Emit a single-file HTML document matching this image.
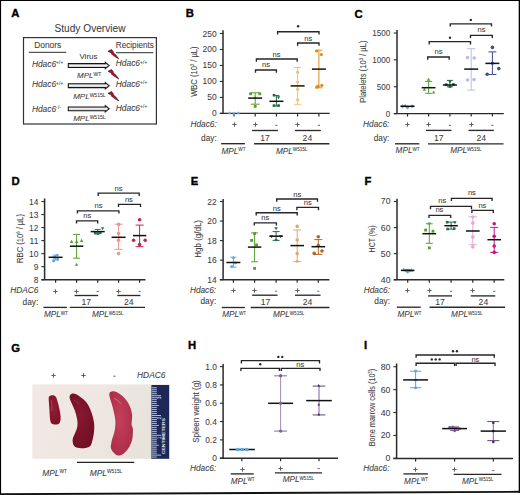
<!DOCTYPE html>
<html><head><meta charset="utf-8"><style>
html,body{margin:0;padding:0;background:#fff;}
svg{display:block;font-family:"Liberation Sans", sans-serif;}
text{stroke:#3a3a3a;stroke-width:0.06px;}
</style></head><body>
<svg width="520" height="495" viewBox="0 0 520 495">
<rect x="0" y="0" width="520" height="495" fill="#fff"/>
<text x="11.20" y="17.30" font-size="11.3" text-anchor="start" fill="#000" font-weight="bold" style="stroke:#000;stroke-width:0.35px">A</text>
<text x="54.50" y="32.30" font-size="10" text-anchor="start" fill="#3c3c3c" textLength="71" lengthAdjust="spacingAndGlyphs" style="stroke-width:0.05px">Study Overview</text>
<rect x="23.5" y="37.6" width="132.9" height="86.4" fill="none" stroke="#333" stroke-width="1.2"/>
<text x="34.20" y="48.00" font-size="8.4" text-anchor="start" fill="#3c3c3c" textLength="27" lengthAdjust="spacingAndGlyphs">Donors</text>
<line x1="28.80" y1="52.40" x2="66.30" y2="52.40" stroke="#555" stroke-width="1.3"/>
<text x="115.80" y="47.60" font-size="8.2" text-anchor="start" fill="#3c3c3c" textLength="38.1" lengthAdjust="spacingAndGlyphs">Recipients</text>
<line x1="116.10" y1="52.70" x2="153.30" y2="52.70" stroke="#555" stroke-width="1.3"/>
<text x="79.40" y="59.40" font-size="8" text-anchor="start" fill="#3c3c3c" textLength="18.2" lengthAdjust="spacingAndGlyphs">Virus</text>
<text x="31.90" y="67.10" font-size="8.4" fill="#3c3c3c"><tspan font-style="italic">Hdac6</tspan><tspan font-size="4.6" dy="-2.7" letter-spacing="0.25" style="stroke-width:0.08px">+/+</tspan></text>
<text x="31.90" y="87.40" font-size="8.4" fill="#3c3c3c"><tspan font-style="italic">Hdac6</tspan><tspan font-size="4.6" dy="-2.7" letter-spacing="0.25" style="stroke-width:0.08px">+/+</tspan></text>
<text x="31.90" y="111.50" font-size="8.4" fill="#3c3c3c"><tspan font-style="italic">Hdac6</tspan><tspan font-size="4.6" dy="-2.7" letter-spacing="0.25" style="stroke-width:0.08px">-/-</tspan></text>
<text x="115.80" y="66.40" font-size="8.4" fill="#3c3c3c"><tspan font-style="italic">Hdac6</tspan><tspan font-size="4.6" dy="-2.7" letter-spacing="0.25" style="stroke-width:0.08px">+/+</tspan></text>
<text x="115.80" y="87.00" font-size="8.4" fill="#3c3c3c"><tspan font-style="italic">Hdac6</tspan><tspan font-size="4.6" dy="-2.7" letter-spacing="0.25" style="stroke-width:0.08px">+/+</tspan></text>
<text x="115.80" y="110.50" font-size="8.4" fill="#3c3c3c"><tspan font-style="italic">Hdac6</tspan><tspan font-size="4.6" dy="-2.7" letter-spacing="0.25" style="stroke-width:0.08px">+/+</tspan></text>
<defs><linearGradient id="arrg" x1="0" y1="0" x2="0" y2="1"><stop offset="0" stop-color="#9a9a9a"/><stop offset="0.5" stop-color="#f4f4f4"/><stop offset="1" stop-color="#8a8a8a"/></linearGradient></defs>
<path d="M68.3,63.6H105.3V62.3L109.2,65.5L105.3,68.7V67.4H68.3Z" fill="url(#arrg)" stroke="#151515" stroke-width="1.05" stroke-linejoin="miter"/>
<path d="M68.3,83.8H105.3V82.5L109.2,85.7L105.3,88.9V87.60000000000001H68.3Z" fill="url(#arrg)" stroke="#151515" stroke-width="1.05" stroke-linejoin="miter"/>
<path d="M68.3,106.89999999999999H105.3V105.6L109.2,108.8L105.3,112.0V110.7H68.3Z" fill="url(#arrg)" stroke="#151515" stroke-width="1.05" stroke-linejoin="miter"/>
<text x="77.00" y="77.60" font-size="8.0" fill="#3c3c3c" text-anchor="start"><tspan font-style="italic">MPL</tspan><tspan font-size="5.0" dy="-1.9" style="stroke-width:0.08px">WT</tspan></text>
<text x="73.20" y="98.50" font-size="8.0" fill="#3c3c3c" text-anchor="start"><tspan font-style="italic">MPL</tspan><tspan font-size="5.0" dy="-1.9" style="stroke-width:0.08px">W515L</tspan></text>
<text x="73.20" y="121.30" font-size="8.0" fill="#3c3c3c" text-anchor="start"><tspan font-style="italic">MPL</tspan><tspan font-size="5.0" dy="-1.9" style="stroke-width:0.08px">W515L</tspan></text>
<path d="M108.00,51.20L111.60,49.50L113.60,52.20L112.90,52.50L116.00,55.10L118.80,58.90L114.20,56.10L111.30,53.80L112.10,53.40Z" fill="#c8102e" stroke="#2a0006" stroke-width="0.6" stroke-linejoin="round"/>
<path d="M108.00,71.30L111.60,69.60L113.60,72.30L112.90,72.60L116.00,75.20L118.80,79.00L114.20,76.20L111.30,73.90L112.10,73.50Z" fill="#c8102e" stroke="#2a0006" stroke-width="0.6" stroke-linejoin="round"/>
<path d="M108.00,93.30L111.60,91.60L113.60,94.30L112.90,94.60L116.00,97.20L118.80,101.00L114.20,98.20L111.30,95.90L112.10,95.50Z" fill="#c8102e" stroke="#2a0006" stroke-width="0.6" stroke-linejoin="round"/>
<text x="185.70" y="17.20" font-size="11.3" text-anchor="start" fill="#000" font-weight="bold" style="stroke:#000;stroke-width:0.35px">B</text>
<line x1="223.00" y1="30.20" x2="223.00" y2="113.40" stroke="#2a2a2a" stroke-width="1.5"/>
<line x1="219.80" y1="113.40" x2="223.00" y2="113.40" stroke="#2a2a2a" stroke-width="1.1"/>
<text x="216.60" y="116.40" font-size="8.4" text-anchor="end" fill="#3c3c3c">0</text>
<line x1="219.80" y1="97.42" x2="223.00" y2="97.42" stroke="#2a2a2a" stroke-width="1.1"/>
<text x="216.60" y="100.42" font-size="8.4" text-anchor="end" fill="#3c3c3c">50</text>
<line x1="219.80" y1="81.44" x2="223.00" y2="81.44" stroke="#2a2a2a" stroke-width="1.1"/>
<text x="216.60" y="84.44" font-size="8.4" text-anchor="end" fill="#3c3c3c">100</text>
<line x1="219.80" y1="65.46" x2="223.00" y2="65.46" stroke="#2a2a2a" stroke-width="1.1"/>
<text x="216.60" y="68.46" font-size="8.4" text-anchor="end" fill="#3c3c3c">150</text>
<line x1="219.80" y1="49.48" x2="223.00" y2="49.48" stroke="#2a2a2a" stroke-width="1.1"/>
<text x="216.60" y="52.48" font-size="8.4" text-anchor="end" fill="#3c3c3c">200</text>
<line x1="219.80" y1="33.50" x2="223.00" y2="33.50" stroke="#2a2a2a" stroke-width="1.1"/>
<text x="216.60" y="36.50" font-size="8.4" text-anchor="end" fill="#3c3c3c">250</text>
<line x1="219.80" y1="113.40" x2="329.70" y2="113.40" stroke="#2a2a2a" stroke-width="1.4"/>
<line x1="234.00" y1="113.40" x2="234.00" y2="116.40" stroke="#2a2a2a" stroke-width="1.2"/>
<line x1="255.20" y1="113.40" x2="255.20" y2="116.40" stroke="#2a2a2a" stroke-width="1.2"/>
<line x1="276.40" y1="113.40" x2="276.40" y2="116.40" stroke="#2a2a2a" stroke-width="1.2"/>
<line x1="297.60" y1="113.40" x2="297.60" y2="116.40" stroke="#2a2a2a" stroke-width="1.2"/>
<line x1="318.90" y1="113.40" x2="318.90" y2="116.40" stroke="#2a2a2a" stroke-width="1.2"/>
<text x="0" y="0" font-size="9.2" fill="#3c3c3c" text-anchor="middle" transform="translate(197.10,71.65) rotate(-90)" textLength="50.3" lengthAdjust="spacingAndGlyphs">WBC (10<tspan font-size="5" dy="-3">3</tspan><tspan dy="3"> / µL)</tspan></text>
<path d="M229.50,111.35L231.15,114.35L227.85,114.35Z" fill="#5aa6e6"/>
<path d="M233.80,111.55L235.45,114.55L232.15,114.55Z" fill="#5aa6e6"/>
<path d="M238.20,111.35L239.85,114.35L236.55,114.35Z" fill="#5aa6e6"/>
<line x1="255.20" y1="92.80" x2="255.20" y2="104.20" stroke="#55a02e" stroke-width="1.0"/>
<line x1="250.70" y1="92.80" x2="259.70" y2="92.80" stroke="#55a02e" stroke-width="1.0"/>
<line x1="250.70" y1="104.20" x2="259.70" y2="104.20" stroke="#55a02e" stroke-width="1.0"/>
<rect x="249.20" y="92.40" width="2.80" height="2.80" fill="#55a02e"/>
<rect x="258.40" y="92.40" width="2.80" height="2.80" fill="#55a02e"/>
<rect x="253.80" y="105.00" width="2.80" height="2.80" fill="#55a02e"/>
<path d="M255.20,99.43L256.63,96.83L253.77,96.83Z" fill="#55a02e"/>
<line x1="248.20" y1="98.10" x2="262.20" y2="98.10" stroke="#111" stroke-width="1.5"/>
<line x1="276.40" y1="95.60" x2="276.40" y2="106.00" stroke="#1f6b42" stroke-width="1.0"/>
<line x1="273.40" y1="95.60" x2="279.40" y2="95.60" stroke="#1f6b42" stroke-width="1.0"/>
<line x1="273.40" y1="106.00" x2="279.40" y2="106.00" stroke="#1f6b42" stroke-width="1.0"/>
<rect x="272.70" y="93.90" width="2.60" height="2.60" fill="#1f6b42"/>
<path d="M278.60,99.25L280.25,96.25L276.95,96.25Z" fill="#1f6b42"/>
<rect x="272.70" y="104.30" width="2.60" height="2.60" fill="#1f6b42"/>
<rect x="277.30" y="104.30" width="2.60" height="2.60" fill="#1f6b42"/>
<line x1="269.40" y1="101.30" x2="283.40" y2="101.30" stroke="#111" stroke-width="1.5"/>
<line x1="297.60" y1="67.50" x2="297.60" y2="104.30" stroke="#f3c078" stroke-width="1.0"/>
<line x1="294.10" y1="67.50" x2="301.10" y2="67.50" stroke="#f3c078" stroke-width="1.0"/>
<line x1="294.10" y1="104.30" x2="301.10" y2="104.30" stroke="#f3c078" stroke-width="1.0"/>
<circle cx="297.60" cy="72.30" r="1.60" fill="#f3c078"/>
<circle cx="297.60" cy="82.00" r="1.60" fill="#f3c078"/>
<circle cx="297.60" cy="89.30" r="1.60" fill="#f3c078"/>
<circle cx="297.60" cy="99.80" r="1.60" fill="#f3c078"/>
<line x1="290.60" y1="85.90" x2="304.60" y2="85.90" stroke="#111" stroke-width="1.5"/>
<line x1="318.90" y1="50.20" x2="318.90" y2="87.80" stroke="#e08c1c" stroke-width="1.0"/>
<line x1="315.40" y1="50.20" x2="322.40" y2="50.20" stroke="#e08c1c" stroke-width="1.0"/>
<line x1="315.40" y1="87.80" x2="322.40" y2="87.80" stroke="#e08c1c" stroke-width="1.0"/>
<circle cx="316.60" cy="51.00" r="1.60" fill="#e08c1c"/>
<circle cx="321.40" cy="54.50" r="1.60" fill="#e08c1c"/>
<circle cx="318.00" cy="86.20" r="1.60" fill="#e08c1c"/>
<circle cx="321.80" cy="85.40" r="1.60" fill="#e08c1c"/>
<circle cx="316.80" cy="87.20" r="1.60" fill="#e08c1c"/>
<line x1="311.90" y1="69.10" x2="325.90" y2="69.10" stroke="#111" stroke-width="1.5"/>
<path d="M255.50,72.80V70.00H276.40V72.80" fill="none" stroke="#262626" stroke-width="1.35"/>
<text x="266.00" y="67.00" font-size="7.6" text-anchor="middle" fill="#3c3c3c">ns</text>
<path d="M256.40,61.80V59.00H297.20V61.80" fill="none" stroke="#262626" stroke-width="1.35"/>
<text x="276.60" y="56.60" font-size="7.6" text-anchor="middle" fill="#3c3c3c">ns</text>
<path d="M297.60,45.80V43.00H319.00V45.80" fill="none" stroke="#262626" stroke-width="1.35"/>
<text x="308.30" y="40.80" font-size="7.6" text-anchor="middle" fill="#3c3c3c">ns</text>
<path d="M277.60,34.50V31.70H319.00V34.50" fill="none" stroke="#262626" stroke-width="1.35"/>
<circle cx="298.10" cy="26.30" r="1.2" fill="#2a2a2a"/>
<text x="216.80" y="126.80" font-size="8.3" fill="#3c3c3c" text-anchor="end" font-style="italic">Hdac6:</text>
<line x1="232.30" y1="124.50" x2="236.70" y2="124.50" stroke="#5a5a5a" stroke-width="0.95"/>
<line x1="234.50" y1="122.30" x2="234.50" y2="126.70" stroke="#5a5a5a" stroke-width="0.95"/>
<line x1="253.30" y1="124.50" x2="257.70" y2="124.50" stroke="#5a5a5a" stroke-width="0.95"/>
<line x1="255.50" y1="122.30" x2="255.50" y2="126.70" stroke="#5a5a5a" stroke-width="0.95"/>
<line x1="275.30" y1="125.30" x2="277.50" y2="125.30" stroke="#555" stroke-width="0.9"/>
<line x1="295.30" y1="124.50" x2="299.70" y2="124.50" stroke="#5a5a5a" stroke-width="0.95"/>
<line x1="297.50" y1="122.30" x2="297.50" y2="126.70" stroke="#5a5a5a" stroke-width="0.95"/>
<line x1="317.80" y1="125.30" x2="320.00" y2="125.30" stroke="#555" stroke-width="0.9"/>
<text x="216.80" y="141.00" font-size="8.3" text-anchor="end" fill="#3c3c3c">day:</text>
<line x1="252.10" y1="130.50" x2="277.90" y2="130.50" stroke="#2a2a2a" stroke-width="1.35"/>
<line x1="295.00" y1="130.50" x2="320.80" y2="130.50" stroke="#2a2a2a" stroke-width="1.35"/>
<text x="265.00" y="140.80" font-size="8.6" text-anchor="middle" fill="#3c3c3c">17</text>
<text x="307.40" y="140.80" font-size="8.6" text-anchor="middle" fill="#3c3c3c">24</text>
<line x1="221.10" y1="143.70" x2="244.90" y2="143.70" stroke="#2a2a2a" stroke-width="1.35"/>
<line x1="254.10" y1="143.70" x2="329.40" y2="143.70" stroke="#2a2a2a" stroke-width="1.35"/>
<text x="221.50" y="153.60" font-size="8.2" fill="#3c3c3c" text-anchor="start"><tspan font-style="italic">MPL</tspan><tspan font-size="4.6" dy="-2.3" style="stroke-width:0.08px">WT</tspan></text>
<text x="276.00" y="153.60" font-size="8.2" fill="#3c3c3c" text-anchor="start"><tspan font-style="italic">MPL</tspan><tspan font-size="4.6" dy="-2.3" style="stroke-width:0.08px">W515L</tspan></text>
<text x="354.40" y="17.90" font-size="11.3" text-anchor="start" fill="#000" font-weight="bold" style="stroke:#000;stroke-width:0.35px">C</text>
<line x1="397.00" y1="30.00" x2="397.00" y2="113.60" stroke="#2a2a2a" stroke-width="1.5"/>
<line x1="393.80" y1="113.60" x2="397.00" y2="113.60" stroke="#2a2a2a" stroke-width="1.1"/>
<text x="390.30" y="116.60" font-size="8.5" text-anchor="end" fill="#3c3c3c" textLength="4.5" lengthAdjust="spacingAndGlyphs">0</text>
<line x1="393.80" y1="86.73" x2="397.00" y2="86.73" stroke="#2a2a2a" stroke-width="1.1"/>
<text x="390.30" y="89.73" font-size="8.5" text-anchor="end" fill="#3c3c3c" textLength="13.5" lengthAdjust="spacingAndGlyphs">500</text>
<line x1="393.80" y1="59.87" x2="397.00" y2="59.87" stroke="#2a2a2a" stroke-width="1.1"/>
<text x="390.30" y="62.87" font-size="8.5" text-anchor="end" fill="#3c3c3c" textLength="18.0" lengthAdjust="spacingAndGlyphs">1000</text>
<line x1="393.80" y1="33.00" x2="397.00" y2="33.00" stroke="#2a2a2a" stroke-width="1.1"/>
<text x="390.30" y="36.00" font-size="8.5" text-anchor="end" fill="#3c3c3c" textLength="18.0" lengthAdjust="spacingAndGlyphs">1500</text>
<line x1="393.80" y1="113.60" x2="503.80" y2="113.60" stroke="#2a2a2a" stroke-width="1.4"/>
<line x1="407.50" y1="113.60" x2="407.50" y2="116.60" stroke="#2a2a2a" stroke-width="1.2"/>
<line x1="428.60" y1="113.60" x2="428.60" y2="116.60" stroke="#2a2a2a" stroke-width="1.2"/>
<line x1="449.90" y1="113.60" x2="449.90" y2="116.60" stroke="#2a2a2a" stroke-width="1.2"/>
<line x1="471.20" y1="113.60" x2="471.20" y2="116.60" stroke="#2a2a2a" stroke-width="1.2"/>
<line x1="492.40" y1="113.60" x2="492.40" y2="116.60" stroke="#2a2a2a" stroke-width="1.2"/>
<text x="0" y="0" font-size="9.2" fill="#3c3c3c" text-anchor="middle" transform="translate(366.40,71.65) rotate(-90)" textLength="62.3" lengthAdjust="spacingAndGlyphs">Platelets (10<tspan font-size="5" dy="-3">3</tspan><tspan dy="3"> / µL)</tspan></text>
<path d="M402.60,104.25L404.55,106.20L402.60,108.15L400.65,106.20Z" fill="#5aa6e6"/>
<path d="M407.50,105.65L409.45,107.60L407.50,109.55L405.55,107.60Z" fill="#5aa6e6"/>
<path d="M412.20,104.25L414.15,106.20L412.20,108.15L410.25,106.20Z" fill="#5aa6e6"/>
<path d="M405.20,104.04L406.76,105.60L405.20,107.16L403.64,105.60Z" fill="#5aa6e6"/>
<line x1="400.40" y1="106.30" x2="414.60" y2="106.30" stroke="#111" stroke-width="1.5"/>
<line x1="428.60" y1="81.40" x2="428.60" y2="93.30" stroke="#55a02e" stroke-width="1.0"/>
<line x1="425.10" y1="81.40" x2="432.10" y2="81.40" stroke="#55a02e" stroke-width="1.0"/>
<line x1="425.10" y1="93.30" x2="432.10" y2="93.30" stroke="#55a02e" stroke-width="1.0"/>
<path d="M428.60,77.64L430.36,80.84L426.84,80.84Z" fill="#55a02e"/>
<path d="M424.40,87.75L426.05,90.75L422.75,90.75Z" fill="#55a02e"/>
<path d="M433.60,90.55L435.25,93.55L431.95,93.55Z" fill="#55a02e"/>
<line x1="421.70" y1="87.70" x2="435.50" y2="87.70" stroke="#111" stroke-width="1.5"/>
<line x1="449.90" y1="80.40" x2="449.90" y2="86.80" stroke="#1f6b42" stroke-width="1.0"/>
<line x1="446.90" y1="80.40" x2="452.90" y2="80.40" stroke="#1f6b42" stroke-width="1.0"/>
<line x1="446.90" y1="86.80" x2="452.90" y2="86.80" stroke="#1f6b42" stroke-width="1.0"/>
<rect x="444.90" y="83.30" width="2.60" height="2.60" fill="#1f6b42"/>
<rect x="452.10" y="83.10" width="2.60" height="2.60" fill="#1f6b42"/>
<path d="M449.90,83.54L451.44,80.74L448.36,80.74Z" fill="#1f6b42"/>
<rect x="448.60" y="85.30" width="2.60" height="2.60" fill="#1f6b42"/>
<line x1="442.90" y1="85.00" x2="456.90" y2="85.00" stroke="#111" stroke-width="1.5"/>
<line x1="471.20" y1="48.70" x2="471.20" y2="90.10" stroke="#b9bfe2" stroke-width="1.0"/>
<line x1="467.20" y1="48.70" x2="475.20" y2="48.70" stroke="#b9bfe2" stroke-width="1.0"/>
<line x1="467.20" y1="90.10" x2="475.20" y2="90.10" stroke="#b9bfe2" stroke-width="1.0"/>
<circle cx="467.60" cy="57.60" r="1.80" fill="#b9bfe2"/>
<circle cx="474.20" cy="58.00" r="1.80" fill="#b9bfe2"/>
<circle cx="467.60" cy="80.00" r="1.80" fill="#b9bfe2"/>
<circle cx="474.00" cy="79.60" r="1.80" fill="#b9bfe2"/>
<line x1="464.20" y1="69.10" x2="478.20" y2="69.10" stroke="#111" stroke-width="1.5"/>
<line x1="492.40" y1="51.90" x2="492.40" y2="74.50" stroke="#3a4c9b" stroke-width="1.0"/>
<line x1="488.40" y1="51.90" x2="496.40" y2="51.90" stroke="#3a4c9b" stroke-width="1.0"/>
<line x1="488.40" y1="74.50" x2="496.40" y2="74.50" stroke="#3a4c9b" stroke-width="1.0"/>
<circle cx="492.40" cy="47.40" r="1.80" fill="#3a4c9b"/>
<circle cx="498.80" cy="68.60" r="1.80" fill="#3a4c9b"/>
<circle cx="487.20" cy="74.20" r="1.80" fill="#3a4c9b"/>
<circle cx="492.40" cy="63.20" r="1.60" fill="#3a4c9b"/>
<line x1="485.40" y1="63.40" x2="499.40" y2="63.40" stroke="#111" stroke-width="1.5"/>
<path d="M427.70,59.80V57.00H449.20V59.80" fill="none" stroke="#262626" stroke-width="1.35"/>
<text x="438.50" y="53.90" font-size="7.6" text-anchor="middle" fill="#3c3c3c">ns</text>
<path d="M429.20,44.40V41.60H470.50V44.40" fill="none" stroke="#262626" stroke-width="1.35"/>
<circle cx="450.00" cy="37.80" r="1.2" fill="#2a2a2a"/>
<path d="M470.50,38.10V35.30H492.30V38.10" fill="none" stroke="#262626" stroke-width="1.35"/>
<text x="481.50" y="31.80" font-size="7.6" text-anchor="middle" fill="#3c3c3c">ns</text>
<path d="M450.30,26.60V23.80H491.50V26.60" fill="none" stroke="#262626" stroke-width="1.35"/>
<circle cx="470.80" cy="19.90" r="1.2" fill="#2a2a2a"/>
<text x="389.40" y="126.60" font-size="8.3" fill="#3c3c3c" text-anchor="end" font-style="italic">Hdac6:</text>
<line x1="405.30" y1="124.50" x2="409.70" y2="124.50" stroke="#5a5a5a" stroke-width="0.95"/>
<line x1="407.50" y1="122.30" x2="407.50" y2="126.70" stroke="#5a5a5a" stroke-width="0.95"/>
<line x1="426.30" y1="124.50" x2="430.70" y2="124.50" stroke="#5a5a5a" stroke-width="0.95"/>
<line x1="428.50" y1="122.30" x2="428.50" y2="126.70" stroke="#5a5a5a" stroke-width="0.95"/>
<line x1="448.80" y1="125.30" x2="451.00" y2="125.30" stroke="#555" stroke-width="0.9"/>
<line x1="469.30" y1="124.50" x2="473.70" y2="124.50" stroke="#5a5a5a" stroke-width="0.95"/>
<line x1="471.50" y1="122.30" x2="471.50" y2="126.70" stroke="#5a5a5a" stroke-width="0.95"/>
<line x1="491.30" y1="125.30" x2="493.50" y2="125.30" stroke="#555" stroke-width="0.9"/>
<text x="389.40" y="141.00" font-size="8.3" text-anchor="end" fill="#3c3c3c">day:</text>
<line x1="426.00" y1="130.40" x2="451.50" y2="130.40" stroke="#2a2a2a" stroke-width="1.35"/>
<line x1="468.50" y1="130.40" x2="493.80" y2="130.40" stroke="#2a2a2a" stroke-width="1.35"/>
<text x="438.70" y="140.80" font-size="8.6" text-anchor="middle" fill="#3c3c3c">17</text>
<text x="481.30" y="140.80" font-size="8.6" text-anchor="middle" fill="#3c3c3c">24</text>
<line x1="395.00" y1="143.80" x2="419.30" y2="143.80" stroke="#2a2a2a" stroke-width="1.35"/>
<line x1="428.00" y1="143.80" x2="503.50" y2="143.80" stroke="#2a2a2a" stroke-width="1.35"/>
<text x="395.60" y="153.10" font-size="8.2" fill="#3c3c3c" text-anchor="start"><tspan font-style="italic">MPL</tspan><tspan font-size="4.6" dy="-2.3" style="stroke-width:0.08px">WT</tspan></text>
<text x="450.20" y="153.00" font-size="8.2" fill="#3c3c3c" text-anchor="start"><tspan font-style="italic">MPL</tspan><tspan font-size="4.6" dy="-2.3" style="stroke-width:0.08px">W515L</tspan></text>
<text x="11.60" y="184.80" font-size="11.3" text-anchor="start" fill="#000" font-weight="bold" style="stroke:#000;stroke-width:0.35px">D</text>
<line x1="44.60" y1="198.50" x2="44.60" y2="279.70" stroke="#2a2a2a" stroke-width="1.5"/>
<line x1="41.40" y1="279.70" x2="44.60" y2="279.70" stroke="#2a2a2a" stroke-width="1.1"/>
<text x="38.30" y="282.70" font-size="8.4" text-anchor="end" fill="#3c3c3c">8</text>
<line x1="41.40" y1="266.67" x2="44.60" y2="266.67" stroke="#2a2a2a" stroke-width="1.1"/>
<text x="38.30" y="269.67" font-size="8.4" text-anchor="end" fill="#3c3c3c">9</text>
<line x1="41.40" y1="253.64" x2="44.60" y2="253.64" stroke="#2a2a2a" stroke-width="1.1"/>
<text x="38.30" y="256.64" font-size="8.4" text-anchor="end" fill="#3c3c3c">10</text>
<line x1="41.40" y1="240.61" x2="44.60" y2="240.61" stroke="#2a2a2a" stroke-width="1.1"/>
<text x="38.30" y="243.61" font-size="8.4" text-anchor="end" fill="#3c3c3c">11</text>
<line x1="41.40" y1="227.58" x2="44.60" y2="227.58" stroke="#2a2a2a" stroke-width="1.1"/>
<text x="38.30" y="230.58" font-size="8.4" text-anchor="end" fill="#3c3c3c">12</text>
<line x1="41.40" y1="214.55" x2="44.60" y2="214.55" stroke="#2a2a2a" stroke-width="1.1"/>
<text x="38.30" y="217.55" font-size="8.4" text-anchor="end" fill="#3c3c3c">13</text>
<line x1="41.40" y1="201.52" x2="44.60" y2="201.52" stroke="#2a2a2a" stroke-width="1.1"/>
<text x="38.30" y="204.52" font-size="8.4" text-anchor="end" fill="#3c3c3c">14</text>
<line x1="41.40" y1="279.70" x2="145.50" y2="279.70" stroke="#2a2a2a" stroke-width="1.4"/>
<line x1="55.60" y1="279.70" x2="55.60" y2="282.70" stroke="#2a2a2a" stroke-width="1.2"/>
<line x1="76.60" y1="279.70" x2="76.60" y2="282.70" stroke="#2a2a2a" stroke-width="1.2"/>
<line x1="97.70" y1="279.70" x2="97.70" y2="282.70" stroke="#2a2a2a" stroke-width="1.2"/>
<line x1="118.60" y1="279.70" x2="118.60" y2="282.70" stroke="#2a2a2a" stroke-width="1.2"/>
<line x1="139.60" y1="279.70" x2="139.60" y2="282.70" stroke="#2a2a2a" stroke-width="1.2"/>
<text x="0" y="0" font-size="9.2" fill="#3c3c3c" text-anchor="middle" transform="translate(23.40,238.45) rotate(-90)" textLength="48.9" lengthAdjust="spacingAndGlyphs">RBC (10<tspan font-size="5" dy="-3">6</tspan><tspan dy="3"> / µL)</tspan></text>
<line x1="55.60" y1="255.10" x2="55.60" y2="260.00" stroke="#5aa0e0" stroke-width="1.0"/>
<line x1="52.60" y1="255.10" x2="58.60" y2="255.10" stroke="#5aa0e0" stroke-width="1.0"/>
<line x1="52.60" y1="260.00" x2="58.60" y2="260.00" stroke="#5aa0e0" stroke-width="1.0"/>
<path d="M57.20,257.14L58.74,254.34L55.66,254.34Z" fill="#5aa0e0"/>
<rect x="52.80" y="256.20" width="2.40" height="2.40" fill="#5aa0e0"/>
<circle cx="53.60" cy="261.00" r="1.40" fill="#5aa0e0"/>
<rect x="56.40" y="258.00" width="2.40" height="2.40" fill="#5aa0e0"/>
<line x1="48.60" y1="257.30" x2="62.60" y2="257.30" stroke="#111" stroke-width="1.5"/>
<line x1="76.60" y1="234.40" x2="76.60" y2="258.20" stroke="#55a02e" stroke-width="1.0"/>
<line x1="73.10" y1="234.40" x2="80.10" y2="234.40" stroke="#55a02e" stroke-width="1.0"/>
<line x1="73.10" y1="258.20" x2="80.10" y2="258.20" stroke="#55a02e" stroke-width="1.0"/>
<path d="M71.60,239.84L73.36,243.04L69.84,243.04Z" fill="#55a02e"/>
<path d="M76.60,239.84L78.36,243.04L74.84,243.04Z" fill="#55a02e"/>
<path d="M81.60,238.84L83.36,242.04L79.84,242.04Z" fill="#55a02e"/>
<path d="M76.60,262.64L78.36,265.84L74.84,265.84Z" fill="#55a02e"/>
<line x1="69.90" y1="246.20" x2="83.30" y2="246.20" stroke="#111" stroke-width="1.5"/>
<line x1="97.70" y1="229.40" x2="97.70" y2="233.60" stroke="#1f7a5a" stroke-width="1.0"/>
<line x1="94.70" y1="229.40" x2="100.70" y2="229.40" stroke="#1f7a5a" stroke-width="1.0"/>
<line x1="94.70" y1="233.60" x2="100.70" y2="233.60" stroke="#1f7a5a" stroke-width="1.0"/>
<path d="M102.60,230.25L104.25,227.25L100.95,227.25Z" fill="#1f7a5a"/>
<rect x="93.90" y="231.90" width="2.60" height="2.60" fill="#1f7a5a"/>
<rect x="96.70" y="232.30" width="2.60" height="2.60" fill="#1f7a5a"/>
<rect x="99.10" y="231.30" width="2.60" height="2.60" fill="#1f7a5a"/>
<line x1="90.70" y1="231.60" x2="104.70" y2="231.60" stroke="#111" stroke-width="1.5"/>
<line x1="118.60" y1="224.20" x2="118.60" y2="249.30" stroke="#e59a8c" stroke-width="1.0"/>
<line x1="114.60" y1="224.20" x2="122.60" y2="224.20" stroke="#e59a8c" stroke-width="1.0"/>
<line x1="114.60" y1="249.30" x2="122.60" y2="249.30" stroke="#e59a8c" stroke-width="1.0"/>
<circle cx="118.60" cy="224.40" r="1.80" fill="#e59a8c"/>
<circle cx="118.60" cy="233.60" r="1.80" fill="#e59a8c"/>
<circle cx="118.60" cy="240.20" r="1.80" fill="#e59a8c"/>
<circle cx="118.60" cy="253.60" r="1.80" fill="#e59a8c"/>
<line x1="111.60" y1="237.30" x2="125.60" y2="237.30" stroke="#111" stroke-width="1.5"/>
<line x1="139.60" y1="225.10" x2="139.60" y2="246.70" stroke="#c0254a" stroke-width="1.0"/>
<line x1="135.60" y1="225.10" x2="143.60" y2="225.10" stroke="#c0254a" stroke-width="1.0"/>
<line x1="135.60" y1="246.70" x2="143.60" y2="246.70" stroke="#c0254a" stroke-width="1.0"/>
<circle cx="139.60" cy="219.80" r="1.80" fill="#c0254a"/>
<circle cx="133.60" cy="240.20" r="1.80" fill="#c0254a"/>
<circle cx="145.20" cy="240.20" r="1.80" fill="#c0254a"/>
<circle cx="139.60" cy="244.60" r="1.80" fill="#c0254a"/>
<line x1="132.90" y1="235.60" x2="146.30" y2="235.60" stroke="#111" stroke-width="1.5"/>
<path d="M76.50,223.60V220.80H97.70V223.60" fill="none" stroke="#262626" stroke-width="1.35"/>
<text x="87.20" y="217.70" font-size="7.6" text-anchor="middle" fill="#3c3c3c">ns</text>
<path d="M77.40,213.60V210.80H118.90V213.60" fill="none" stroke="#262626" stroke-width="1.35"/>
<text x="98.50" y="208.00" font-size="7.6" text-anchor="middle" fill="#3c3c3c">ns</text>
<path d="M118.50,207.10V204.30H140.50V207.10" fill="none" stroke="#262626" stroke-width="1.35"/>
<text x="128.90" y="201.50" font-size="7.6" text-anchor="middle" fill="#3c3c3c">ns</text>
<path d="M98.20,195.90V193.10H139.20V195.90" fill="none" stroke="#262626" stroke-width="1.35"/>
<text x="118.50" y="190.80" font-size="7.6" text-anchor="middle" fill="#3c3c3c">ns</text>
<text x="38.3" y="293.0" font-size="8.3" fill="#3c3c3c" text-anchor="end" font-style="italic">HDAC6</text>
<line x1="53.30" y1="291.50" x2="57.70" y2="291.50" stroke="#5a5a5a" stroke-width="0.95"/>
<line x1="55.50" y1="289.30" x2="55.50" y2="293.70" stroke="#5a5a5a" stroke-width="0.95"/>
<line x1="74.30" y1="291.50" x2="78.70" y2="291.50" stroke="#5a5a5a" stroke-width="0.95"/>
<line x1="76.50" y1="289.30" x2="76.50" y2="293.70" stroke="#5a5a5a" stroke-width="0.95"/>
<line x1="96.60" y1="291.40" x2="98.80" y2="291.40" stroke="#555" stroke-width="0.9"/>
<line x1="116.30" y1="291.50" x2="120.70" y2="291.50" stroke="#5a5a5a" stroke-width="0.95"/>
<line x1="118.50" y1="289.30" x2="118.50" y2="293.70" stroke="#5a5a5a" stroke-width="0.95"/>
<line x1="138.50" y1="291.40" x2="140.70" y2="291.40" stroke="#555" stroke-width="0.9"/>
<text x="38.30" y="304.60" font-size="8.3" text-anchor="end" fill="#3c3c3c">day:</text>
<line x1="74.60" y1="295.50" x2="98.20" y2="295.50" stroke="#2a2a2a" stroke-width="1.35"/>
<line x1="117.30" y1="295.50" x2="140.40" y2="295.50" stroke="#2a2a2a" stroke-width="1.35"/>
<text x="86.30" y="304.80" font-size="8.6" text-anchor="middle" fill="#3c3c3c">17</text>
<text x="128.80" y="304.80" font-size="8.6" text-anchor="middle" fill="#3c3c3c">24</text>
<line x1="43.40" y1="307.40" x2="66.90" y2="307.40" stroke="#2a2a2a" stroke-width="1.35"/>
<line x1="69.80" y1="307.40" x2="145.00" y2="307.40" stroke="#2a2a2a" stroke-width="1.35"/>
<text x="43.90" y="316.90" font-size="8.2" fill="#3c3c3c" text-anchor="start"><tspan font-style="italic">MPL</tspan><tspan font-size="4.6" dy="-2.3" style="stroke-width:0.08px">WT</tspan></text>
<text x="91.90" y="316.90" font-size="8.2" fill="#3c3c3c" text-anchor="start"><tspan font-style="italic">MPL</tspan><tspan font-size="4.6" dy="-2.3" style="stroke-width:0.08px">W515L</tspan></text>
<text x="190.80" y="184.80" font-size="11.3" text-anchor="start" fill="#000" font-weight="bold" style="stroke:#000;stroke-width:0.35px">E</text>
<line x1="223.10" y1="198.90" x2="223.10" y2="279.70" stroke="#2a2a2a" stroke-width="1.5"/>
<line x1="219.90" y1="279.70" x2="223.10" y2="279.70" stroke="#2a2a2a" stroke-width="1.1"/>
<text x="216.70" y="282.70" font-size="8.4" text-anchor="end" fill="#3c3c3c">14</text>
<line x1="219.90" y1="260.15" x2="223.10" y2="260.15" stroke="#2a2a2a" stroke-width="1.1"/>
<text x="216.70" y="263.15" font-size="8.4" text-anchor="end" fill="#3c3c3c">16</text>
<line x1="219.90" y1="240.60" x2="223.10" y2="240.60" stroke="#2a2a2a" stroke-width="1.1"/>
<text x="216.70" y="243.60" font-size="8.4" text-anchor="end" fill="#3c3c3c">18</text>
<line x1="219.90" y1="221.05" x2="223.10" y2="221.05" stroke="#2a2a2a" stroke-width="1.1"/>
<text x="216.70" y="224.05" font-size="8.4" text-anchor="end" fill="#3c3c3c">20</text>
<line x1="219.90" y1="201.50" x2="223.10" y2="201.50" stroke="#2a2a2a" stroke-width="1.1"/>
<text x="216.70" y="204.50" font-size="8.4" text-anchor="end" fill="#3c3c3c">22</text>
<line x1="219.90" y1="279.70" x2="329.40" y2="279.70" stroke="#2a2a2a" stroke-width="1.4"/>
<line x1="233.40" y1="279.70" x2="233.40" y2="282.70" stroke="#2a2a2a" stroke-width="1.2"/>
<line x1="254.60" y1="279.70" x2="254.60" y2="282.70" stroke="#2a2a2a" stroke-width="1.2"/>
<line x1="276.10" y1="279.70" x2="276.10" y2="282.70" stroke="#2a2a2a" stroke-width="1.2"/>
<line x1="297.20" y1="279.70" x2="297.20" y2="282.70" stroke="#2a2a2a" stroke-width="1.2"/>
<line x1="318.30" y1="279.70" x2="318.30" y2="282.70" stroke="#2a2a2a" stroke-width="1.2"/>
<text x="0" y="0" font-size="9.2" fill="#3c3c3c" text-anchor="middle" transform="translate(201.40,238.85) rotate(-90)" textLength="37.7" lengthAdjust="spacingAndGlyphs">Hgb (g/dL)</text>
<line x1="233.40" y1="257.20" x2="233.40" y2="267.10" stroke="#5aa6e6" stroke-width="1.0"/>
<line x1="230.40" y1="257.20" x2="236.40" y2="257.20" stroke="#5aa6e6" stroke-width="1.0"/>
<line x1="230.40" y1="267.10" x2="236.40" y2="267.10" stroke="#5aa6e6" stroke-width="1.0"/>
<path d="M233.40,255.75L235.05,258.75L231.75,258.75Z" fill="#5aa6e6"/>
<circle cx="235.60" cy="263.00" r="1.40" fill="#5aa6e6"/>
<circle cx="231.60" cy="266.60" r="1.40" fill="#5aa6e6"/>
<line x1="226.40" y1="262.50" x2="240.40" y2="262.50" stroke="#111" stroke-width="1.5"/>
<line x1="254.60" y1="232.90" x2="254.60" y2="261.80" stroke="#55a02e" stroke-width="1.0"/>
<line x1="251.10" y1="232.90" x2="258.10" y2="232.90" stroke="#55a02e" stroke-width="1.0"/>
<line x1="251.10" y1="261.80" x2="258.10" y2="261.80" stroke="#55a02e" stroke-width="1.0"/>
<rect x="253.20" y="232.20" width="2.80" height="2.80" fill="#55a02e"/>
<rect x="250.20" y="239.00" width="2.80" height="2.80" fill="#55a02e"/>
<rect x="255.20" y="243.50" width="2.80" height="2.80" fill="#55a02e"/>
<rect x="253.20" y="267.00" width="2.80" height="2.80" fill="#55a02e"/>
<line x1="247.90" y1="247.10" x2="261.30" y2="247.10" stroke="#111" stroke-width="1.5"/>
<line x1="276.10" y1="231.60" x2="276.10" y2="240.40" stroke="#1f6b4a" stroke-width="1.0"/>
<line x1="272.60" y1="231.60" x2="279.60" y2="231.60" stroke="#1f6b4a" stroke-width="1.0"/>
<line x1="272.60" y1="240.40" x2="279.60" y2="240.40" stroke="#1f6b4a" stroke-width="1.0"/>
<path d="M276.10,230.36L277.86,227.16L274.34,227.16Z" fill="#1f6b4a"/>
<path d="M271.60,238.25L273.25,235.25L269.95,235.25Z" fill="#1f6b4a"/>
<path d="M280.60,238.25L282.25,235.25L278.95,235.25Z" fill="#1f6b4a"/>
<path d="M276.10,241.74L277.64,238.94L274.56,238.94Z" fill="#1f6b4a"/>
<line x1="269.30" y1="236.20" x2="282.90" y2="236.20" stroke="#111" stroke-width="1.5"/>
<line x1="297.20" y1="230.00" x2="297.20" y2="261.60" stroke="#dcab6e" stroke-width="1.0"/>
<line x1="293.20" y1="230.00" x2="301.20" y2="230.00" stroke="#dcab6e" stroke-width="1.0"/>
<line x1="293.20" y1="261.60" x2="301.20" y2="261.60" stroke="#dcab6e" stroke-width="1.0"/>
<circle cx="297.20" cy="226.40" r="1.80" fill="#dcab6e"/>
<circle cx="297.20" cy="240.00" r="1.80" fill="#dcab6e"/>
<circle cx="297.20" cy="253.50" r="1.80" fill="#dcab6e"/>
<circle cx="297.20" cy="261.40" r="1.40" fill="#dcab6e"/>
<line x1="290.40" y1="245.60" x2="304.00" y2="245.60" stroke="#111" stroke-width="1.5"/>
<line x1="318.30" y1="239.60" x2="318.30" y2="254.40" stroke="#b5651d" stroke-width="1.0"/>
<line x1="314.30" y1="239.60" x2="322.30" y2="239.60" stroke="#b5651d" stroke-width="1.0"/>
<line x1="314.30" y1="254.40" x2="322.30" y2="254.40" stroke="#b5651d" stroke-width="1.0"/>
<circle cx="318.30" cy="236.80" r="1.80" fill="#b5651d"/>
<circle cx="318.30" cy="245.60" r="1.80" fill="#b5651d"/>
<circle cx="314.20" cy="253.40" r="1.80" fill="#b5651d"/>
<circle cx="322.00" cy="251.00" r="1.80" fill="#b5651d"/>
<line x1="311.50" y1="246.70" x2="325.10" y2="246.70" stroke="#111" stroke-width="1.5"/>
<path d="M254.30,225.60V222.80H276.40V225.60" fill="none" stroke="#262626" stroke-width="1.35"/>
<text x="265.20" y="219.60" font-size="7.6" text-anchor="middle" fill="#3c3c3c">ns</text>
<path d="M256.20,215.50V212.70H297.20V215.50" fill="none" stroke="#262626" stroke-width="1.35"/>
<text x="276.70" y="210.70" font-size="7.6" text-anchor="middle" fill="#3c3c3c">ns</text>
<path d="M296.90,210.20V207.40H318.50V210.20" fill="none" stroke="#262626" stroke-width="1.35"/>
<text x="307.70" y="204.80" font-size="7.6" text-anchor="middle" fill="#3c3c3c">ns</text>
<path d="M276.70,201.80V199.00H317.50V201.80" fill="none" stroke="#262626" stroke-width="1.35"/>
<text x="297.30" y="196.50" font-size="7.6" text-anchor="middle" fill="#3c3c3c">ns</text>
<text x="216.20" y="293.00" font-size="8.3" fill="#3c3c3c" text-anchor="end" font-style="italic">Hdac6:</text>
<line x1="231.30" y1="290.50" x2="235.70" y2="290.50" stroke="#5a5a5a" stroke-width="0.95"/>
<line x1="233.50" y1="288.30" x2="233.50" y2="292.70" stroke="#5a5a5a" stroke-width="0.95"/>
<line x1="252.30" y1="290.50" x2="256.70" y2="290.50" stroke="#5a5a5a" stroke-width="0.95"/>
<line x1="254.50" y1="288.30" x2="254.50" y2="292.70" stroke="#5a5a5a" stroke-width="0.95"/>
<line x1="275.00" y1="291.20" x2="277.20" y2="291.20" stroke="#555" stroke-width="0.9"/>
<line x1="295.30" y1="290.50" x2="299.70" y2="290.50" stroke="#5a5a5a" stroke-width="0.95"/>
<line x1="297.50" y1="288.30" x2="297.50" y2="292.70" stroke="#5a5a5a" stroke-width="0.95"/>
<line x1="317.20" y1="291.20" x2="319.40" y2="291.20" stroke="#555" stroke-width="0.9"/>
<text x="216.20" y="303.90" font-size="8.3" text-anchor="end" fill="#3c3c3c">day:</text>
<line x1="252.10" y1="295.20" x2="277.50" y2="295.20" stroke="#2a2a2a" stroke-width="1.35"/>
<line x1="295.00" y1="295.20" x2="320.50" y2="295.20" stroke="#2a2a2a" stroke-width="1.35"/>
<text x="265.50" y="304.50" font-size="8.6" text-anchor="middle" fill="#3c3c3c">17</text>
<text x="307.60" y="304.50" font-size="8.6" text-anchor="middle" fill="#3c3c3c">24</text>
<line x1="221.80" y1="307.50" x2="244.90" y2="307.50" stroke="#2a2a2a" stroke-width="1.35"/>
<line x1="250.70" y1="307.50" x2="329.50" y2="307.50" stroke="#2a2a2a" stroke-width="1.35"/>
<text x="222.20" y="316.80" font-size="8.2" fill="#3c3c3c" text-anchor="start"><tspan font-style="italic">MPL</tspan><tspan font-size="4.6" dy="-2.3" style="stroke-width:0.08px">WT</tspan></text>
<text x="272.90" y="316.80" font-size="8.2" fill="#3c3c3c" text-anchor="start"><tspan font-style="italic">MPL</tspan><tspan font-size="4.6" dy="-2.3" style="stroke-width:0.08px">W515L</tspan></text>
<text x="364.50" y="184.80" font-size="11.3" text-anchor="start" fill="#000" font-weight="bold" style="stroke:#000;stroke-width:0.35px">F</text>
<line x1="397.00" y1="198.70" x2="397.00" y2="279.70" stroke="#2a2a2a" stroke-width="1.5"/>
<line x1="393.80" y1="279.70" x2="397.00" y2="279.70" stroke="#2a2a2a" stroke-width="1.1"/>
<text x="390.50" y="282.70" font-size="8.7" text-anchor="end" fill="#3c3c3c">40</text>
<line x1="393.80" y1="253.63" x2="397.00" y2="253.63" stroke="#2a2a2a" stroke-width="1.1"/>
<text x="390.50" y="256.63" font-size="8.7" text-anchor="end" fill="#3c3c3c">50</text>
<line x1="393.80" y1="227.56" x2="397.00" y2="227.56" stroke="#2a2a2a" stroke-width="1.1"/>
<text x="390.50" y="230.56" font-size="8.7" text-anchor="end" fill="#3c3c3c">60</text>
<line x1="393.80" y1="201.49" x2="397.00" y2="201.49" stroke="#2a2a2a" stroke-width="1.1"/>
<text x="390.50" y="204.49" font-size="8.7" text-anchor="end" fill="#3c3c3c">70</text>
<line x1="393.80" y1="279.70" x2="504.30" y2="279.70" stroke="#2a2a2a" stroke-width="1.4"/>
<line x1="407.70" y1="279.70" x2="407.70" y2="282.70" stroke="#2a2a2a" stroke-width="1.2"/>
<line x1="429.30" y1="279.70" x2="429.30" y2="282.70" stroke="#2a2a2a" stroke-width="1.2"/>
<line x1="451.10" y1="279.70" x2="451.10" y2="282.70" stroke="#2a2a2a" stroke-width="1.2"/>
<line x1="472.80" y1="279.70" x2="472.80" y2="282.70" stroke="#2a2a2a" stroke-width="1.2"/>
<line x1="494.20" y1="279.70" x2="494.20" y2="282.70" stroke="#2a2a2a" stroke-width="1.2"/>
<text x="0" y="0" font-size="9.2" fill="#3c3c3c" text-anchor="middle" transform="translate(375.10,238.90) rotate(-90)" textLength="27" lengthAdjust="spacingAndGlyphs">HCT (%)</text>
<line x1="407.70" y1="269.40" x2="407.70" y2="271.60" stroke="#5aa6e6" stroke-width="1.0"/>
<line x1="404.70" y1="269.40" x2="410.70" y2="269.40" stroke="#5aa6e6" stroke-width="1.0"/>
<line x1="404.70" y1="271.60" x2="410.70" y2="271.60" stroke="#5aa6e6" stroke-width="1.0"/>
<path d="M403.80,267.53L405.67,270.93L401.93,270.93Z" fill="#5aa6e6"/>
<path d="M407.70,269.85L409.65,271.80L407.70,273.75L405.75,271.80Z" fill="#5aa6e6"/>
<path d="M411.60,268.33L413.47,271.73L409.73,271.73Z" fill="#5aa6e6"/>
<line x1="400.95" y1="270.40" x2="414.45" y2="270.40" stroke="#111" stroke-width="1.5"/>
<line x1="429.30" y1="223.80" x2="429.30" y2="243.30" stroke="#55a02e" stroke-width="1.0"/>
<line x1="425.80" y1="223.80" x2="432.80" y2="223.80" stroke="#55a02e" stroke-width="1.0"/>
<line x1="425.80" y1="243.30" x2="432.80" y2="243.30" stroke="#55a02e" stroke-width="1.0"/>
<path d="M429.30,225.76L431.06,222.56L427.54,222.56Z" fill="#55a02e"/>
<rect x="424.20" y="228.70" width="2.80" height="2.80" fill="#55a02e"/>
<rect x="431.60" y="229.80" width="2.80" height="2.80" fill="#55a02e"/>
<rect x="427.90" y="246.50" width="2.80" height="2.80" fill="#55a02e"/>
<line x1="422.40" y1="233.70" x2="436.20" y2="233.70" stroke="#111" stroke-width="1.5"/>
<line x1="451.10" y1="222.10" x2="451.10" y2="229.10" stroke="#1f6b4a" stroke-width="1.0"/>
<line x1="447.60" y1="222.10" x2="454.60" y2="222.10" stroke="#1f6b4a" stroke-width="1.0"/>
<line x1="447.60" y1="229.10" x2="454.60" y2="229.10" stroke="#1f6b4a" stroke-width="1.0"/>
<rect x="445.90" y="220.90" width="2.60" height="2.60" fill="#1f6b4a"/>
<path d="M455.00,224.25L456.65,221.25L453.35,221.25Z" fill="#1f6b4a"/>
<rect x="446.30" y="227.70" width="2.60" height="2.60" fill="#1f6b4a"/>
<rect x="452.90" y="227.30" width="2.60" height="2.60" fill="#1f6b4a"/>
<line x1="444.35" y1="225.70" x2="457.85" y2="225.70" stroke="#111" stroke-width="1.5"/>
<line x1="472.80" y1="216.80" x2="472.80" y2="244.70" stroke="#e8a8ce" stroke-width="1.0"/>
<line x1="468.80" y1="216.80" x2="476.80" y2="216.80" stroke="#e8a8ce" stroke-width="1.0"/>
<line x1="468.80" y1="244.70" x2="476.80" y2="244.70" stroke="#e8a8ce" stroke-width="1.0"/>
<circle cx="472.80" cy="216.80" r="1.60" fill="#e8a8ce"/>
<circle cx="472.80" cy="223.10" r="1.80" fill="#e8a8ce"/>
<circle cx="472.80" cy="236.90" r="1.80" fill="#e8a8ce"/>
<circle cx="472.80" cy="246.90" r="1.80" fill="#e8a8ce"/>
<line x1="465.95" y1="231.00" x2="479.65" y2="231.00" stroke="#111" stroke-width="1.5"/>
<line x1="494.20" y1="227.40" x2="494.20" y2="252.40" stroke="#c8157f" stroke-width="1.0"/>
<line x1="490.20" y1="227.40" x2="498.20" y2="227.40" stroke="#c8157f" stroke-width="1.0"/>
<line x1="490.20" y1="252.40" x2="498.20" y2="252.40" stroke="#c8157f" stroke-width="1.0"/>
<circle cx="494.20" cy="223.80" r="1.80" fill="#c8157f"/>
<circle cx="494.20" cy="236.30" r="1.80" fill="#c8157f"/>
<circle cx="494.20" cy="246.00" r="1.80" fill="#c8157f"/>
<circle cx="494.20" cy="252.40" r="1.80" fill="#c8157f"/>
<line x1="487.40" y1="239.70" x2="501.00" y2="239.70" stroke="#111" stroke-width="1.5"/>
<path d="M429.00,218.10V215.30H450.70V218.10" fill="none" stroke="#262626" stroke-width="1.35"/>
<text x="439.40" y="212.40" font-size="7.6" text-anchor="middle" fill="#3c3c3c">ns</text>
<path d="M430.50,209.20V206.40H471.50V209.20" fill="none" stroke="#262626" stroke-width="1.35"/>
<text x="442.30" y="203.00" font-size="7.6" text-anchor="middle" fill="#3c3c3c">ns</text>
<path d="M471.90,213.10V210.30H493.30V213.10" fill="none" stroke="#262626" stroke-width="1.35"/>
<text x="482.40" y="207.70" font-size="7.6" text-anchor="middle" fill="#3c3c3c">ns</text>
<path d="M451.40,201.10V198.30H492.10V201.10" fill="none" stroke="#262626" stroke-width="1.35"/>
<text x="471.90" y="195.40" font-size="7.6" text-anchor="middle" fill="#3c3c3c">ns</text>
<text x="390.00" y="292.60" font-size="8.3" fill="#3c3c3c" text-anchor="end" font-style="italic">Hdac6:</text>
<line x1="405.30" y1="290.50" x2="409.70" y2="290.50" stroke="#5a5a5a" stroke-width="0.95"/>
<line x1="407.50" y1="288.30" x2="407.50" y2="292.70" stroke="#5a5a5a" stroke-width="0.95"/>
<line x1="427.30" y1="290.50" x2="431.70" y2="290.50" stroke="#5a5a5a" stroke-width="0.95"/>
<line x1="429.50" y1="288.30" x2="429.50" y2="292.70" stroke="#5a5a5a" stroke-width="0.95"/>
<line x1="450.00" y1="291.30" x2="452.20" y2="291.30" stroke="#555" stroke-width="0.9"/>
<line x1="470.30" y1="290.50" x2="474.70" y2="290.50" stroke="#5a5a5a" stroke-width="0.95"/>
<line x1="472.50" y1="288.30" x2="472.50" y2="292.70" stroke="#5a5a5a" stroke-width="0.95"/>
<line x1="493.10" y1="291.30" x2="495.30" y2="291.30" stroke="#555" stroke-width="0.9"/>
<text x="390.00" y="304.20" font-size="8.3" text-anchor="end" fill="#3c3c3c">day:</text>
<line x1="428.10" y1="295.90" x2="452.00" y2="295.90" stroke="#2a2a2a" stroke-width="1.35"/>
<line x1="470.80" y1="295.90" x2="495.30" y2="295.90" stroke="#2a2a2a" stroke-width="1.35"/>
<text x="440.00" y="304.60" font-size="8.6" text-anchor="middle" fill="#3c3c3c">17</text>
<text x="483.40" y="304.60" font-size="8.6" text-anchor="middle" fill="#3c3c3c">24</text>
<line x1="396.80" y1="307.20" x2="420.70" y2="307.20" stroke="#2a2a2a" stroke-width="1.35"/>
<line x1="429.60" y1="307.20" x2="505.00" y2="307.20" stroke="#2a2a2a" stroke-width="1.35"/>
<text x="397.40" y="316.80" font-size="8.2" fill="#3c3c3c" text-anchor="start"><tspan font-style="italic">MPL</tspan><tspan font-size="4.6" dy="-2.3" style="stroke-width:0.08px">WT</tspan></text>
<text x="451.10" y="316.80" font-size="8.2" fill="#3c3c3c" text-anchor="start"><tspan font-style="italic">MPL</tspan><tspan font-size="4.6" dy="-2.3" style="stroke-width:0.08px">W515L</tspan></text>
<text x="11.30" y="351.80" font-size="11.3" text-anchor="start" fill="#000" font-weight="bold" style="stroke:#000;stroke-width:0.35px">G</text>
<line x1="51.30" y1="375.50" x2="55.70" y2="375.50" stroke="#5a5a5a" stroke-width="0.95"/>
<line x1="53.50" y1="373.30" x2="53.50" y2="377.70" stroke="#5a5a5a" stroke-width="0.95"/>
<line x1="81.30" y1="375.50" x2="85.70" y2="375.50" stroke="#5a5a5a" stroke-width="0.95"/>
<line x1="83.50" y1="373.30" x2="83.50" y2="377.70" stroke="#5a5a5a" stroke-width="0.95"/>
<line x1="113.40" y1="376.20" x2="115.60" y2="376.20" stroke="#555" stroke-width="0.9"/>
<text x="137.0" y="377.6" font-size="8.2" fill="#3c3c3c" font-style="italic" textLength="28.5" lengthAdjust="spacingAndGlyphs">HDAC6</text>
<defs>
<linearGradient id="pbg" x1="0" y1="0" x2="1" y2="0.3">
<stop offset="0" stop-color="#f3e8e2"/><stop offset="0.5" stop-color="#efe7e2"/><stop offset="1" stop-color="#e6e3db"/>
</linearGradient>
<radialGradient id="sp1" cx="0.45" cy="0.4" r="0.7"><stop offset="0" stop-color="#941c35"/><stop offset="1" stop-color="#7c1027"/></radialGradient>
<radialGradient id="sp2" cx="0.45" cy="0.4" r="0.7"><stop offset="0" stop-color="#861830"/><stop offset="1" stop-color="#700e24"/></radialGradient>
<radialGradient id="sp3" cx="0.45" cy="0.45" r="0.7"><stop offset="0" stop-color="#c4405a"/><stop offset="1" stop-color="#a92945"/></radialGradient>
</defs>
<rect x="32.3" y="384.4" width="137" height="74.4" fill="url(#pbg)"/>
<path d="M52.60,395.30C51.60,395.23 50.25,395.65 49.60,396.20C48.95,396.75 48.73,396.45 48.70,398.60C48.67,400.75 49.17,405.62 49.40,409.10C49.63,412.58 49.73,417.12 50.10,419.50C50.47,421.88 50.65,422.57 51.60,423.40C52.55,424.23 54.47,424.58 55.80,424.50C57.13,424.42 58.80,424.12 59.60,422.90C60.40,421.68 60.63,419.50 60.60,417.20C60.57,414.90 59.93,411.80 59.40,409.10C58.87,406.40 58.03,403.08 57.40,401.00C56.77,398.92 56.40,397.55 55.60,396.60C54.80,395.65 53.60,395.37 52.60,395.30Z" fill="url(#sp1)"/>
<path d="M74.00,393.60C72.43,393.22 71.33,393.67 70.60,394.40C69.87,395.13 69.37,396.40 69.60,398.00C69.83,399.60 71.05,401.67 72.00,404.00C72.95,406.33 74.40,409.12 75.30,412.00C76.20,414.88 77.12,418.63 77.40,421.30C77.68,423.97 77.45,425.88 77.00,428.00C76.55,430.12 75.42,432.12 74.70,434.00C73.98,435.88 72.93,437.55 72.70,439.30C72.47,441.05 72.67,443.12 73.30,444.50C73.93,445.88 74.72,446.97 76.50,447.60C78.28,448.23 81.75,448.52 84.00,448.30C86.25,448.08 88.63,447.47 90.00,446.30C91.37,445.13 91.53,443.68 92.20,441.30C92.87,438.92 93.70,435.10 94.00,432.00C94.30,428.90 94.45,426.03 94.00,422.70C93.55,419.37 92.52,415.33 91.30,412.00C90.08,408.67 88.58,405.25 86.70,402.70C84.82,400.15 82.12,398.22 80.00,396.70C77.88,395.18 75.57,393.98 74.00,393.60Z" fill="url(#sp2)"/>
<path d="M111.70,391.40C110.53,391.60 109.82,392.18 109.50,393.20C109.18,394.22 109.32,395.33 109.80,397.50C110.28,399.67 111.48,402.48 112.40,406.20C113.32,409.92 114.92,415.75 115.30,419.80C115.68,423.85 115.30,426.97 114.70,430.50C114.10,434.03 112.32,437.98 111.70,441.00C111.08,444.02 110.45,446.45 111.00,448.60C111.55,450.75 113.50,452.75 115.00,453.90C116.50,455.05 118.28,455.82 120.00,455.50C121.72,455.18 123.72,453.50 125.30,452.00C126.88,450.50 128.33,448.67 129.50,446.50C130.67,444.33 131.73,441.93 132.30,439.00C132.87,436.07 133.02,431.33 132.90,428.90C132.78,426.47 131.73,426.67 131.60,424.40C131.47,422.13 132.40,418.33 132.10,415.30C131.80,412.27 131.15,409.15 129.80,406.20C128.45,403.25 126.22,399.97 124.00,397.60C121.78,395.23 118.55,393.03 116.50,392.00C114.45,390.97 112.87,391.20 111.70,391.40Z" fill="url(#sp3)"/>
<path d="M51.3,400 Q52.2,405 51.8,411" stroke="#c46a7a" stroke-width="0.8" fill="none" opacity="0.6"/>
<path d="M73.5,400 Q77,402 79.5,404" stroke="#b04a60" stroke-width="1" fill="none" opacity="0.5"/>
<path d="M114,398 Q118,400 121,404" stroke="#e08595" stroke-width="1.2" fill="none" opacity="0.5"/>
<rect x="151.2" y="385.0" width="18.0" height="73.8" fill="#1d2859"/>
<rect x="151.2" y="385.0" width="0.9" height="73.8" fill="#7d85a8"/>
<path d="M152.0,387.78h4.8M152.0,389.76h4.8M152.0,391.74h4.8M152.0,393.72h4.8M152.0,395.70h9.0M152.0,397.68h4.8M152.0,399.66h4.8M152.0,401.64h4.8M152.0,403.62h4.8M152.0,405.60h6.8M152.0,407.58h4.8M152.0,409.56h4.8M152.0,411.54h4.8M152.0,413.52h4.8M152.0,415.50h9.0M152.0,417.48h4.8M152.0,419.46h4.8M152.0,421.44h4.8M152.0,423.42h4.8M152.0,425.40h6.8M152.0,427.38h4.8M152.0,429.36h4.8M152.0,431.34h4.8M152.0,433.32h4.8M152.0,435.30h9.0M152.0,437.28h4.8M152.0,439.26h4.8M152.0,441.24h4.8M152.0,443.22h4.8M152.0,445.20h6.8M152.0,447.18h4.8M152.0,449.16h4.8M152.0,451.14h4.8M152.0,453.12h4.8M152.0,455.10h9.0M152.0,457.08h4.8" stroke="#d4d8e6" stroke-width="0.85"/>
<text x="0" y="0" font-size="4.4" fill="#e6e9f2" font-weight="bold" text-anchor="middle" transform="translate(165.4,436.2) rotate(-90)" textLength="35.9" lengthAdjust="spacingAndGlyphs" style="stroke:none">CENTIMETERS</text>
<text x="0" y="0" font-size="4.8" fill="#e6e9f2" text-anchor="middle" transform="translate(161.3,398.0) rotate(-90)" style="stroke:none">3</text>
<text x="0" y="0" font-size="4.8" fill="#e6e9f2" text-anchor="middle" transform="translate(161.3,418.0) rotate(-90)" style="stroke:none">2</text>
<text x="0" y="0" font-size="4.8" fill="#e6e9f2" text-anchor="middle" transform="translate(161.3,437.9) rotate(-90)" style="stroke:none">1</text>
<line x1="76.90" y1="462.40" x2="134.20" y2="462.40" stroke="#222" stroke-width="1.3"/>
<text x="42.30" y="475.50" font-size="8.4" fill="#3c3c3c" text-anchor="start"><tspan font-style="italic">MPL</tspan><tspan font-size="4.8" dy="-2.3" style="stroke-width:0.08px">WT</tspan></text>
<text x="89.80" y="475.50" font-size="8.4" fill="#3c3c3c" text-anchor="start"><tspan font-style="italic">MPL</tspan><tspan font-size="4.8" dy="-2.3" style="stroke-width:0.08px">W515L</tspan></text>
<text x="188.00" y="348.80" font-size="11.3" text-anchor="start" fill="#000" font-weight="bold" style="stroke:#000;stroke-width:0.35px">H</text>
<line x1="223.10" y1="364.00" x2="223.10" y2="458.20" stroke="#2a2a2a" stroke-width="1.5"/>
<line x1="219.90" y1="458.20" x2="223.10" y2="458.20" stroke="#2a2a2a" stroke-width="1.1"/>
<text x="216.80" y="461.20" font-size="8.4" text-anchor="end" fill="#3c3c3c">0</text>
<line x1="219.90" y1="439.88" x2="223.10" y2="439.88" stroke="#2a2a2a" stroke-width="1.1"/>
<text x="216.80" y="442.88" font-size="8.4" text-anchor="end" fill="#3c3c3c">0.2</text>
<line x1="219.90" y1="421.56" x2="223.10" y2="421.56" stroke="#2a2a2a" stroke-width="1.1"/>
<text x="216.80" y="424.56" font-size="8.4" text-anchor="end" fill="#3c3c3c">0.4</text>
<line x1="219.90" y1="403.24" x2="223.10" y2="403.24" stroke="#2a2a2a" stroke-width="1.1"/>
<text x="216.80" y="406.24" font-size="8.4" text-anchor="end" fill="#3c3c3c">0.6</text>
<line x1="219.90" y1="384.92" x2="223.10" y2="384.92" stroke="#2a2a2a" stroke-width="1.1"/>
<text x="216.80" y="387.92" font-size="8.4" text-anchor="end" fill="#3c3c3c">0.8</text>
<line x1="219.90" y1="366.60" x2="223.10" y2="366.60" stroke="#2a2a2a" stroke-width="1.1"/>
<text x="216.80" y="369.60" font-size="8.4" text-anchor="end" fill="#3c3c3c">1.0</text>
<line x1="219.90" y1="458.20" x2="338.00" y2="458.20" stroke="#2a2a2a" stroke-width="1.4"/>
<line x1="241.80" y1="458.20" x2="241.80" y2="461.20" stroke="#2a2a2a" stroke-width="1.2"/>
<line x1="280.60" y1="458.20" x2="280.60" y2="461.20" stroke="#2a2a2a" stroke-width="1.2"/>
<line x1="319.00" y1="458.20" x2="319.00" y2="461.20" stroke="#2a2a2a" stroke-width="1.2"/>
<text x="0" y="0" font-size="9.2" fill="#3c3c3c" text-anchor="middle" transform="translate(198.90,411.50) rotate(-90)" textLength="62.6" lengthAdjust="spacingAndGlyphs">Spleen weight (g)</text>
<line x1="229.30" y1="449.50" x2="254.90" y2="449.50" stroke="#111" stroke-width="1.5"/>
<circle cx="237.80" cy="449.50" r="1.85" fill="#5aa6e6"/>
<circle cx="242.20" cy="449.50" r="1.85" fill="#5aa6e6"/>
<circle cx="246.80" cy="449.50" r="1.85" fill="#5aa6e6"/>
<line x1="280.60" y1="375.80" x2="280.60" y2="431.10" stroke="#a28cb6" stroke-width="1.0"/>
<line x1="274.10" y1="375.80" x2="287.10" y2="375.80" stroke="#a28cb6" stroke-width="1.3"/>
<line x1="274.10" y1="431.10" x2="287.10" y2="431.10" stroke="#a28cb6" stroke-width="1.3"/>
<line x1="268.15" y1="403.30" x2="293.05" y2="403.30" stroke="#111" stroke-width="1.5"/>
<circle cx="280.60" cy="375.80" r="1.70" fill="#7f6496"/>
<circle cx="280.60" cy="403.30" r="1.70" fill="#7f6496"/>
<circle cx="280.60" cy="431.10" r="1.70" fill="#7f6496"/>
<line x1="319.00" y1="386.10" x2="319.00" y2="414.90" stroke="#6f5190" stroke-width="0.9"/>
<line x1="312.65" y1="386.10" x2="325.35" y2="386.10" stroke="#6f5190" stroke-width="1.1"/>
<line x1="312.65" y1="414.90" x2="325.35" y2="414.90" stroke="#6f5190" stroke-width="1.1"/>
<path d="M318.80,384.08L320.12,386.48L317.48,386.48Z" fill="#3e1f58"/>
<path d="M318.80,403.18L320.12,405.58L317.48,405.58Z" fill="#3e1f58"/>
<path d="M318.80,413.08L320.12,415.48L317.48,415.48Z" fill="#3e1f58"/>
<line x1="306.20" y1="400.60" x2="331.80" y2="400.60" stroke="#111" stroke-width="1.5"/>
<path d="M241.40,363.40V360.60H319.50V363.40" fill="none" stroke="#262626" stroke-width="1.35"/>
<circle cx="278.35" cy="356.90" r="1.2" fill="#2a2a2a"/>
<circle cx="282.25" cy="356.90" r="1.2" fill="#2a2a2a"/>
<path d="M240.90,371.10V368.30H279.40V371.10" fill="none" stroke="#262626" stroke-width="1.35"/>
<circle cx="260.20" cy="364.30" r="1.2" fill="#2a2a2a"/>
<path d="M281.30,371.10V368.30H320.00V371.10" fill="none" stroke="#262626" stroke-width="1.35"/>
<text x="300.30" y="366.80" font-size="7.6" text-anchor="middle" fill="#3c3c3c">ns</text>
<text x="216.30" y="471.40" font-size="8.3" fill="#3c3c3c" text-anchor="end" font-style="italic">Hdac6:</text>
<line x1="240.30" y1="469.50" x2="244.70" y2="469.50" stroke="#5a5a5a" stroke-width="0.95"/>
<line x1="242.50" y1="467.30" x2="242.50" y2="471.70" stroke="#5a5a5a" stroke-width="0.95"/>
<line x1="278.30" y1="468.50" x2="282.70" y2="468.50" stroke="#5a5a5a" stroke-width="0.95"/>
<line x1="280.50" y1="466.30" x2="280.50" y2="470.70" stroke="#5a5a5a" stroke-width="0.95"/>
<line x1="317.60" y1="468.60" x2="319.80" y2="468.60" stroke="#555" stroke-width="0.9"/>
<line x1="230.70" y1="473.90" x2="253.70" y2="473.90" stroke="#2a2a2a" stroke-width="1.35"/>
<line x1="274.90" y1="472.90" x2="322.10" y2="472.90" stroke="#2a2a2a" stroke-width="1.35"/>
<text x="230.70" y="483.50" font-size="8.2" fill="#3c3c3c" text-anchor="start"><tspan font-style="italic">MPL</tspan><tspan font-size="4.6" dy="-2.3" style="stroke-width:0.08px">WT</tspan></text>
<text x="282.70" y="482.40" font-size="8.2" fill="#3c3c3c" text-anchor="start"><tspan font-style="italic">MPL</tspan><tspan font-size="4.6" dy="-2.3" style="stroke-width:0.08px">W515L</tspan></text>
<text x="364.10" y="348.70" font-size="11.3" text-anchor="start" fill="#000" font-weight="bold" style="stroke:#000;stroke-width:0.35px">I</text>
<line x1="396.60" y1="363.50" x2="396.60" y2="458.30" stroke="#2a2a2a" stroke-width="1.5"/>
<line x1="393.40" y1="458.30" x2="396.60" y2="458.30" stroke="#2a2a2a" stroke-width="1.1"/>
<text x="390.30" y="461.30" font-size="8.7" text-anchor="end" fill="#3c3c3c">0</text>
<line x1="393.40" y1="435.41" x2="396.60" y2="435.41" stroke="#2a2a2a" stroke-width="1.1"/>
<text x="390.30" y="438.41" font-size="8.7" text-anchor="end" fill="#3c3c3c">20</text>
<line x1="393.40" y1="412.52" x2="396.60" y2="412.52" stroke="#2a2a2a" stroke-width="1.1"/>
<text x="390.30" y="415.52" font-size="8.7" text-anchor="end" fill="#3c3c3c">40</text>
<line x1="393.40" y1="389.63" x2="396.60" y2="389.63" stroke="#2a2a2a" stroke-width="1.1"/>
<text x="390.30" y="392.63" font-size="8.7" text-anchor="end" fill="#3c3c3c">60</text>
<line x1="393.40" y1="366.74" x2="396.60" y2="366.74" stroke="#2a2a2a" stroke-width="1.1"/>
<text x="390.30" y="369.74" font-size="8.7" text-anchor="end" fill="#3c3c3c">80</text>
<line x1="393.40" y1="458.50" x2="513.00" y2="458.50" stroke="#2a2a2a" stroke-width="1.4"/>
<line x1="415.60" y1="458.50" x2="415.60" y2="461.50" stroke="#2a2a2a" stroke-width="1.2"/>
<line x1="454.60" y1="458.50" x2="454.60" y2="461.50" stroke="#2a2a2a" stroke-width="1.2"/>
<line x1="493.30" y1="458.50" x2="493.30" y2="461.50" stroke="#2a2a2a" stroke-width="1.2"/>
<text x="0" y="0" font-size="9.2" fill="#3c3c3c" text-anchor="middle" transform="translate(374.70,407.55) rotate(-90)" textLength="77.5" lengthAdjust="spacingAndGlyphs">Bone marrow cells (10<tspan font-size="5" dy="-3">5</tspan><tspan dy="3">)</tspan></text>
<line x1="415.60" y1="371.20" x2="415.60" y2="387.70" stroke="#5aa6e6" stroke-width="1.0"/>
<line x1="409.80" y1="371.20" x2="421.40" y2="371.20" stroke="#5aa6e6" stroke-width="1.0"/>
<line x1="409.80" y1="387.70" x2="421.40" y2="387.70" stroke="#5aa6e6" stroke-width="1.0"/>
<circle cx="415.60" cy="370.90" r="1.50" fill="#5aa6e6"/>
<circle cx="415.60" cy="380.00" r="1.50" fill="#5aa6e6"/>
<circle cx="415.60" cy="387.70" r="1.50" fill="#5aa6e6"/>
<line x1="403.15" y1="379.90" x2="428.05" y2="379.90" stroke="#111" stroke-width="1.5"/>
<line x1="454.60" y1="426.90" x2="454.60" y2="430.40" stroke="#74529a" stroke-width="1.0"/>
<line x1="450.10" y1="426.90" x2="459.10" y2="426.90" stroke="#74529a" stroke-width="1.0"/>
<line x1="450.10" y1="430.40" x2="459.10" y2="430.40" stroke="#74529a" stroke-width="1.0"/>
<rect x="448.40" y="426.20" width="2.40" height="2.40" fill="#74529a"/>
<rect x="451.40" y="425.80" width="2.40" height="2.40" fill="#74529a"/>
<rect x="455.20" y="427.00" width="2.40" height="2.40" fill="#74529a"/>
<rect x="458.20" y="427.40" width="2.40" height="2.40" fill="#74529a"/>
<rect x="453.50" y="429.90" width="2.20" height="2.20" fill="#74529a"/>
<line x1="442.20" y1="428.60" x2="467.00" y2="428.60" stroke="#111" stroke-width="1.5"/>
<line x1="493.30" y1="421.50" x2="493.30" y2="440.60" stroke="#6f5190" stroke-width="0.9"/>
<line x1="487.30" y1="421.50" x2="499.30" y2="421.50" stroke="#6f5190" stroke-width="1.1"/>
<line x1="487.30" y1="440.60" x2="499.30" y2="440.60" stroke="#6f5190" stroke-width="1.1"/>
<rect x="492.20" y="421.70" width="2.20" height="2.20" fill="#3e1f58"/>
<rect x="492.20" y="430.00" width="2.20" height="2.20" fill="#3e1f58"/>
<rect x="492.20" y="440.90" width="2.20" height="2.20" fill="#3e1f58"/>
<line x1="480.65" y1="431.10" x2="505.95" y2="431.10" stroke="#111" stroke-width="1.5"/>
<path d="M416.10,357.80V355.00H494.30V357.80" fill="none" stroke="#262626" stroke-width="1.35"/>
<circle cx="453.05" cy="351.20" r="1.2" fill="#2a2a2a"/>
<circle cx="456.95" cy="351.20" r="1.2" fill="#2a2a2a"/>
<path d="M416.10,366.00V363.20H454.60V366.00" fill="none" stroke="#262626" stroke-width="1.35"/>
<circle cx="431.80" cy="359.40" r="1.2" fill="#2a2a2a"/>
<circle cx="435.70" cy="359.40" r="1.2" fill="#2a2a2a"/>
<circle cx="439.60" cy="359.40" r="1.2" fill="#2a2a2a"/>
<path d="M456.10,366.00V363.20H495.00V366.00" fill="none" stroke="#262626" stroke-width="1.35"/>
<text x="475.40" y="361.70" font-size="7.6" text-anchor="middle" fill="#3c3c3c">ns</text>
<text x="389.50" y="471.40" font-size="8.3" fill="#3c3c3c" text-anchor="end" font-style="italic">Hdac6:</text>
<line x1="413.30" y1="469.50" x2="417.70" y2="469.50" stroke="#5a5a5a" stroke-width="0.95"/>
<line x1="415.50" y1="467.30" x2="415.50" y2="471.70" stroke="#5a5a5a" stroke-width="0.95"/>
<line x1="452.30" y1="469.50" x2="456.70" y2="469.50" stroke="#5a5a5a" stroke-width="0.95"/>
<line x1="454.50" y1="467.30" x2="454.50" y2="471.70" stroke="#5a5a5a" stroke-width="0.95"/>
<line x1="492.20" y1="470.60" x2="494.40" y2="470.60" stroke="#555" stroke-width="0.9"/>
<line x1="403.50" y1="473.90" x2="427.90" y2="473.90" stroke="#2a2a2a" stroke-width="1.35"/>
<line x1="453.70" y1="474.40" x2="501.50" y2="474.40" stroke="#2a2a2a" stroke-width="1.35"/>
<text x="404.10" y="483.50" font-size="8.2" fill="#3c3c3c" text-anchor="start"><tspan font-style="italic">MPL</tspan><tspan font-size="4.6" dy="-2.3" style="stroke-width:0.08px">WT</tspan></text>
<text x="462.00" y="483.50" font-size="8.2" fill="#3c3c3c" text-anchor="start"><tspan font-style="italic">MPL</tspan><tspan font-size="4.6" dy="-2.3" style="stroke-width:0.08px">W515L</tspan></text>
<path d="M0.5,0V494.6" stroke="#000" stroke-width="1.2"/>
<path d="M0,0.5H520" stroke="#000" stroke-width="1.2"/>
<path d="M519.4,0V493" stroke="#000" stroke-width="1.4"/>
<path d="M0,494.2L520,491.8" stroke="#111" stroke-width="1.9"/>
</svg>
</body></html>
